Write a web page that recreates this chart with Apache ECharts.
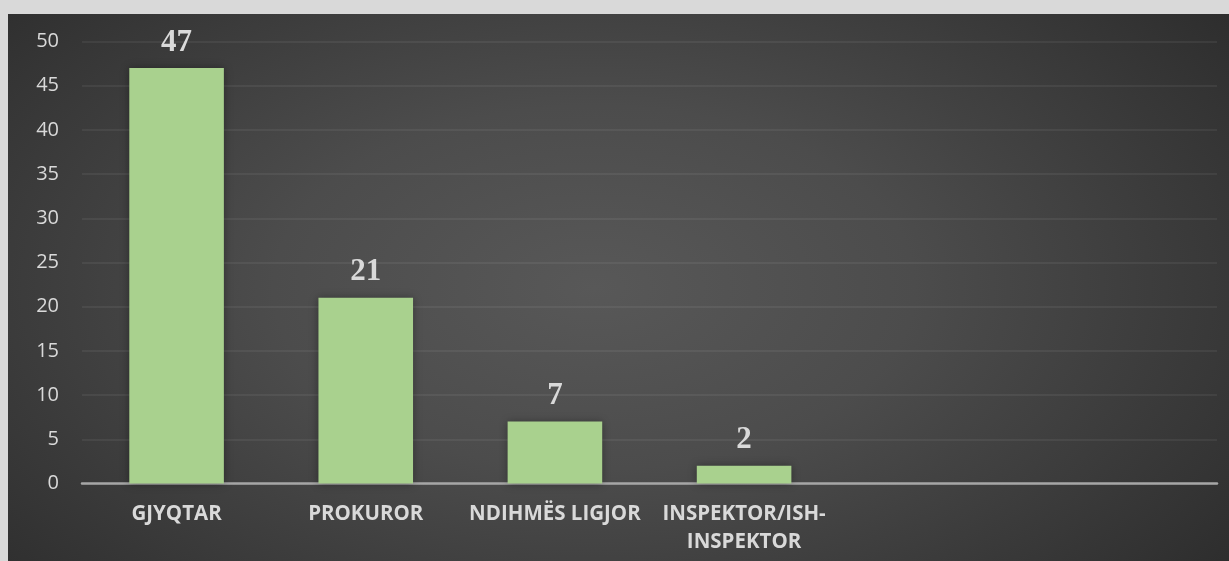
<!DOCTYPE html>
<html>
<head>
<meta charset="utf-8">
<script src="https://cdn.jsdelivr.net/npm/echarts@6/dist/echarts.min.js"></script>
<style>
    html, body { margin: 0; padding: 0; background: #d9d9d9; width: 1229px; height: 561px; overflow: hidden; }
    .chart {
        position: absolute; left: 8px; top: 14px; width: 1221px; height: 547px;
        background: radial-gradient(ellipse 75% 95% at 48% 50%, #585858 0%, #4c4c4c 35%, #262626 100%);
    }
</style>
</head>
<body>
<div class="chart"></div>
<script>
// kategoritë dhe vlerat
let categories = ['GJYQTAR', 'PROKUROR', 'NDIHMËS LIGJOR', 'INSPEKTOR/ISH-\nINSPEKTOR', '', ''];
let values = [47, 21, 7, 2, '-', '-'];
let yTicks = [0, 5, 10, 15, 20, 25, 30, 35, 40, 45, 50];

(function () {
    let myChart = echarts.init(document.getElementsByClassName('chart')[0]);
    let option = {
        backgroundColor: 'transparent',
        animation: false,
        grid: {
            left: 74,
            right: 12,
            top: 27.5,
            bottom: 77.5
        },
        xAxis: {
            type: 'category',
            data: categories,
            axisLine: { lineStyle: { color: '#a6a6a6', width: 2.5 } },
            axisTick: { show: false },
            axisLabel: {
                color: '#d9d9d9',
                fontFamily: 'Open Sans',
                fontWeight: 'bold',
                fontSize: 20.5,
                lineHeight: 28,
                margin: 17,
                interval: 0
            }
        },
        yAxis: {
            type: 'value',
            min: yTicks[0],
            max: yTicks[yTicks.length - 1],
            interval: 5,
            axisLine: { show: false },
            axisTick: { show: false },
            axisLabel: {
                color: '#d9d9d9',
                fontFamily: 'Open Sans',
                fontSize: 20,
                margin: 23
            },
            splitLine: { lineStyle: { color: 'rgba(255,255,255,0.06)', width: 2 } }
        },
        series: [
            {
                type: 'bar',
                data: values,
                barWidth: '50%',
                itemStyle: {
                    color: '#a9d18e',
                    shadowBlur: 8,
                    shadowColor: 'rgba(0,0,0,0.35)'
                },
                label: {
                    show: true,
                    position: 'top',
                    distance: 10,
                    color: '#d9d9d9',
                    fontFamily: 'Liberation Serif',
                    fontWeight: 'bold',
                    fontSize: 31
                }
            }
        ]
    };
    myChart.setOption(option);
    window.addEventListener('resize', function () {
        myChart.resize()
    })
})();
</script>
</body>
</html>
